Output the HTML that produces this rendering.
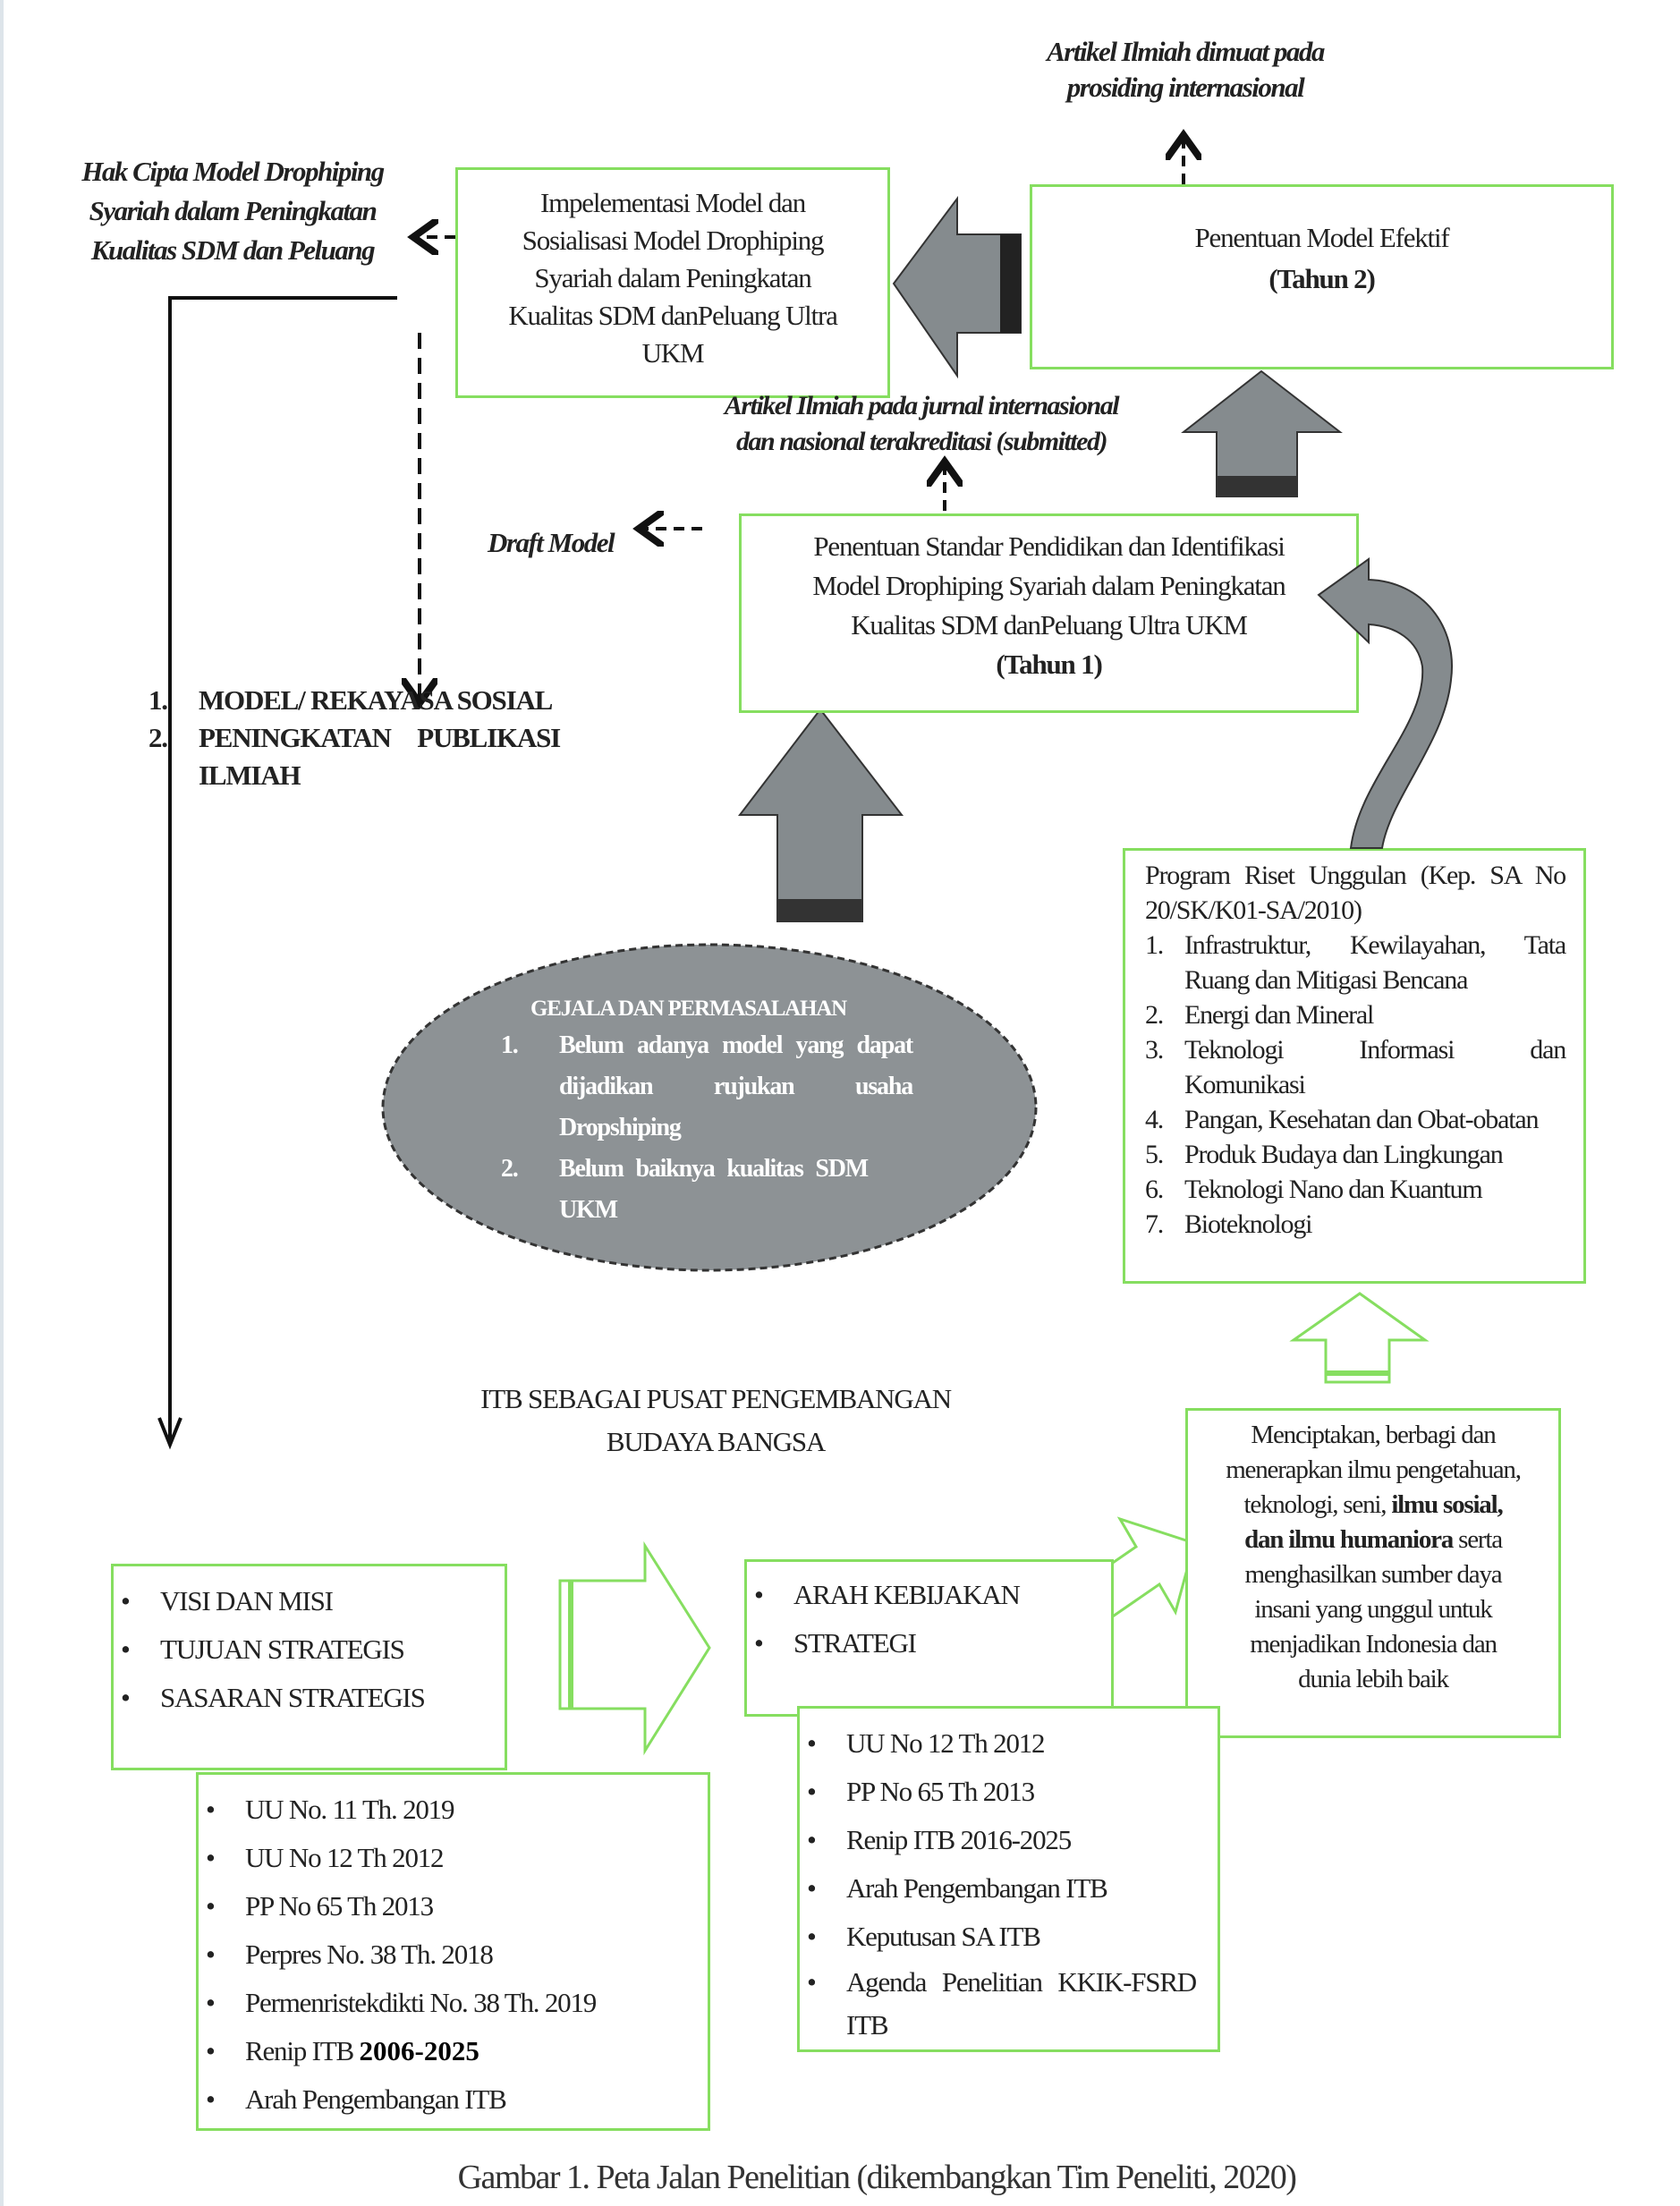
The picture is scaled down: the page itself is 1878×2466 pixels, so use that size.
<!DOCTYPE html>
<html><head><meta charset="utf-8"><style>
html,body{margin:0;padding:0}
body{width:1878px;height:2466px;position:relative;background:#fff;overflow:hidden;font-family:"Liberation Serif",serif;color:#222}
.a{position:absolute}
.box{position:absolute;border:3px solid #86de60;box-sizing:border-box;background:#fff}
.t{font-size:31px;letter-spacing:-1.2px;line-height:1.42}
.c{text-align:center}
.it{font-style:italic;font-weight:bold;letter-spacing:-1.5px}
ul{margin:0;padding:0;list-style:none}
li{position:relative;padding-left:52px}
li:before{content:"•";position:absolute;left:8px}
</style></head><body>
<div class="a" style="left:0;top:0;width:4px;height:2466px;background:#dde4ea"></div>
<svg class="a" style="left:0;top:0" width="1878" height="2466">
 <defs><marker id="ah" markerWidth="10" markerHeight="10" refX="6" refY="5" orient="auto"><path d="M0,0 L7,5 L0,10" fill="none" stroke="#111" stroke-width="2"/></marker></defs>
 <polygon points="999,317 1070,222 1070,262 1141,262 1141,372 1070,372 1070,420" fill="#858b8e" stroke="#333" stroke-width="2"/>
 <rect x="1118" y="262" width="23" height="110" fill="#222"/>
 <polygon points="1410,415 1498,483 1450,483 1450,555 1360,555 1360,483 1323,483" fill="#858b8e" stroke="#333" stroke-width="2"/>
 <rect x="1360" y="532" width="90" height="23" fill="#333"/>
 <polygon points="917,793 1008,911 964,911 964,1030 869,1030 869,911 827,911" fill="#858b8e" stroke="#333" stroke-width="2"/>
 <rect x="869" y="1005" width="95" height="25" fill="#333"/>
 <line x1="1323" y1="206" x2="1323" y2="155" stroke="#111" stroke-width="4" stroke-dasharray="12,8" marker-end="url(#ah)"/>
 <line x1="509" y1="265" x2="466" y2="265" stroke="#111" stroke-width="4" stroke-dasharray="12,8" marker-end="url(#ah)"/>
 <line x1="1056" y1="571" x2="1056" y2="520" stroke="#111" stroke-width="4" stroke-dasharray="12,8" marker-end="url(#ah)"/>
 <line x1="785" y1="591" x2="718" y2="591" stroke="#111" stroke-width="4" stroke-dasharray="12,8" marker-end="url(#ah)"/>
 <line x1="469" y1="372" x2="469" y2="782" stroke="#111" stroke-width="4" stroke-dasharray="18,10" marker-end="url(#ah)"/>
 <polyline points="444,333 190,333 190,1610" fill="none" stroke="#111" stroke-width="4"/>
 <path d="M178,1585 L190,1615 L202,1585" fill="none" stroke="#111" stroke-width="4"/>
 <ellipse cx="793" cy="1238" rx="365" ry="182" fill="#8d9295" stroke="#333" stroke-width="3" stroke-dasharray="8,5"/>
 <polygon points="1520,1446 1593,1498 1553,1498 1553,1545 1482,1545 1482,1498 1446,1498" fill="#fff" stroke="#86de60" stroke-width="3"/>
 <line x1="1482" y1="1535" x2="1553" y2="1535" stroke="#86de60" stroke-width="6"/>
 <polygon points="793,1842 721,1728 721,1767 626,1767 626,1910 721,1910 721,1957" fill="#fff" stroke="#86de60" stroke-width="3"/>
 <line x1="638" y1="1767" x2="638" y2="1910" stroke="#86de60" stroke-width="6"/>
 <polygon points="1212,1769 1270,1729 1252,1698 1335,1725 1314,1802 1296,1771 1238,1811" fill="#fff" stroke="#86de60" stroke-width="3"/>
 <line x1="1215" y1="1775" x2="1240" y2="1812" stroke="#86de60" stroke-width="6"/>
</svg>

<div class="a t c it" style="left:1130px;top:38px;width:390px;line-height:40px">Artikel Ilmiah dimuat pada<br>prosiding internasional</div>
<div class="a t c it" style="left:60px;top:170px;width:400px;line-height:44px">Hak Cipta Model Drophiping<br>Syariah dalam Peningkatan<br>Kualitas SDM dan Peluang</div>

<div class="box t c" style="left:509px;top:187px;width:486px;height:258px;padding-top:16px;line-height:42px">Impelementasi Model dan<br>Sosialisasi Model Drophiping<br>Syariah dalam Peningkatan<br>Kualitas SDM danPeluang Ultra<br>UKM</div>
<div class="box t c" style="left:1151px;top:206px;width:653px;height:207px;padding-top:34px;line-height:46px">Penentuan Model Efektif<br><b>(Tahun 2)</b></div>

<div class="a t c it" style="left:760px;top:434px;width:540px;line-height:40px;font-size:30px">Artikel Ilmiah pada jurnal internasional<br>dan nasional terakreditasi (submitted)</div>
<div class="a t it" style="left:545px;top:585px">Draft Model</div>

<div class="box t c" style="left:826px;top:574px;width:693px;height:223px;padding-top:12px;line-height:44px">Penentuan Standar Pendidikan dan Identifikasi<br>Model Drophiping Syariah dalam Peningkatan<br>Kualitas SDM danPeluang Ultra UKM<br><b>(Tahun 1)</b></div>

<div class="a t" style="left:166px;top:762px;width:460px;font-weight:bold;line-height:42px">
<div style="position:relative;padding-left:56px"><span style="position:absolute;left:0">1.</span>MODEL/ REKAYASA SOSIAL</div>
<div style="position:relative;padding-left:56px;text-align:justify;text-align-last:justify"><span style="position:absolute;left:0">2.</span>PENINGKATAN PUBLIKASI</div>
<div style="padding-left:56px">ILMIAH</div></div>

<div class="a t" style="left:560px;top:1110px;width:460px;color:#fff;font-weight:bold;font-size:28px;line-height:46px">
<div style="padding-left:33px;font-size:25px;line-height:36px">GEJALA DAN PERMASALAHAN</div>
<div style="position:relative;padding-left:65px;text-align:justify"><span style="position:absolute;left:0">1.</span>Belum adanya model yang dapat dijadikan rujukan usaha Dropshiping</div>
<div style="position:relative;padding-left:65px;text-align:justify;width:345px"><span style="position:absolute;left:0">2.</span>Belum baiknya kualitas SDM UKM</div></div>

<div class="box t" style="left:1255px;top:948px;width:518px;height:487px;padding:8px 20px 0 22px;line-height:39px;font-size:30px">
<div style="text-align:justify">Program Riset Unggulan (Kep. SA No 20/SK/K01-SA/2010)</div>
<div style="position:relative;padding-left:44px;text-align:justify"><span style="position:absolute;left:0">1.</span>Infrastruktur, Kewilayahan, Tata Ruang dan Mitigasi Bencana</div>
<div style="position:relative;padding-left:44px"><span style="position:absolute;left:0">2.</span>Energi dan Mineral</div>
<div style="position:relative;padding-left:44px;text-align:justify;text-align-last:justify"><span style="position:absolute;left:0">3.</span>Teknologi Informasi dan</div>
<div style="padding-left:44px">Komunikasi</div>
<div style="position:relative;padding-left:44px"><span style="position:absolute;left:0">4.</span>Pangan, Kesehatan dan Obat-obatan</div>
<div style="position:relative;padding-left:44px"><span style="position:absolute;left:0">5.</span>Produk Budaya dan Lingkungan</div>
<div style="position:relative;padding-left:44px"><span style="position:absolute;left:0">6.</span>Teknologi Nano dan Kuantum</div>
<div style="position:relative;padding-left:44px"><span style="position:absolute;left:0">7.</span>Bioteknologi</div></div>

<svg class="a" style="left:0;top:0" width="1878" height="1000">
 <path d="M1510,948 C1520,870 1595,810 1590,745 C1585,715 1560,700 1530,698 L1530,718 L1474,665 L1530,625 L1530,648 C1590,650 1630,700 1622,760 C1615,830 1555,890 1545,948 Z" fill="#858b8e" stroke="#333" stroke-width="2"/>
</svg>

<div class="a t c" style="left:480px;top:1540px;width:640px;line-height:48px">ITB SEBAGAI PUSAT PENGEMBANGAN<br>BUDAYA BANGSA</div>

<div class="box t c" style="left:1325px;top:1574px;width:420px;height:369px;padding-top:8px;line-height:39px;font-size:29px">Menciptakan, berbagi dan<br>menerapkan ilmu pengetahuan,<br>teknologi, seni, <b>ilmu sosial,<br>dan ilmu humaniora</b> serta<br>menghasilkan sumber daya<br>insani yang unggul untuk<br>menjadikan Indonesia dan<br>dunia lebih baik</div>

<div class="box t" style="left:124px;top:1748px;width:443px;height:231px;padding-top:12px;line-height:54px"><ul><li>VISI DAN MISI</li><li>TUJUAN STRATEGIS</li><li>SASARAN STRATEGIS</li></ul></div>
<div class="box t" style="left:832px;top:1743px;width:413px;height:176px;padding-top:10px;line-height:54px"><ul><li>ARAH KEBIJAKAN</li><li>STRATEGI</li></ul></div>

<div class="box t" style="left:219px;top:1981px;width:575px;height:401px;padding-top:12px;line-height:54px"><ul><li>UU No. 11 Th. 2019</li><li>UU No 12 Th 2012</li><li>PP No 65 Th 2013</li><li>Perpres No. 38 Th. 2018</li><li>Permenristekdikti No. 38 Th. 2019</li><li>Renip ITB <b style="color:#000;letter-spacing:0">2006-2025</b></li><li>Arah Pengembangan ITB</li></ul></div>

<div class="box t" style="left:891px;top:1907px;width:473px;height:387px;padding:12px 24px 0 0;line-height:54px"><ul><li>UU No 12 Th 2012</li><li>PP No 65 Th 2013</li><li>Renip ITB 2016-2025</li><li>Arah Pengembangan ITB</li><li>Keputusan SA ITB</li><li style="text-align:justify;line-height:48px">Agenda Penelitian KKIK-FSRD ITB</li></ul></div>

<div class="a c" style="left:300px;top:2412px;width:1360px;font-size:38px;letter-spacing:-1.5px;color:#333">Gambar 1. Peta Jalan Penelitian (dikembangkan Tim Peneliti, 2020)</div>
</body></html>
